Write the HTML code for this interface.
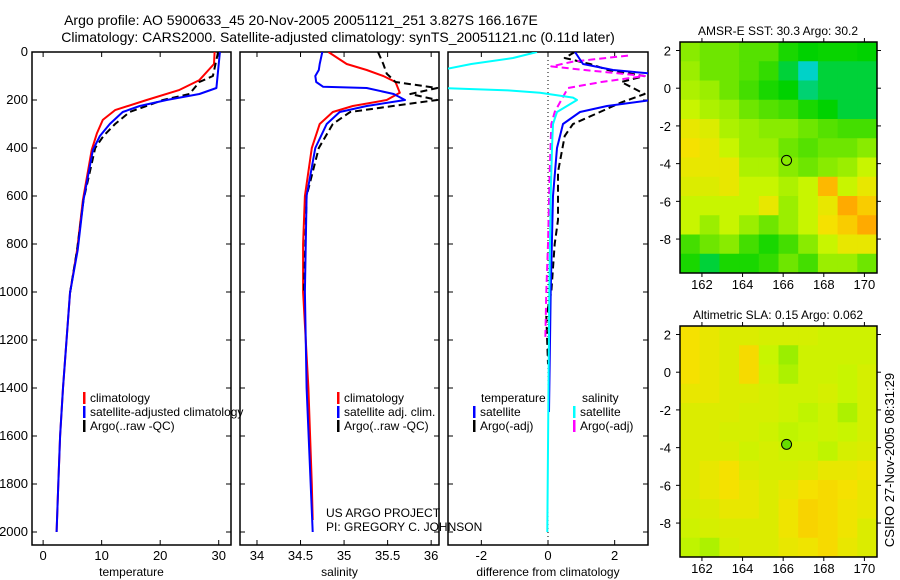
<!DOCTYPE html>
<html><head><meta charset="utf-8"><style>
html,body{margin:0;padding:0;background:#fff;}
svg{display:block;font-family:"Liberation Sans",sans-serif;}
</style></head><body>
<svg id="fig" width="900" height="580" xmlns="http://www.w3.org/2000/svg">
<text x="301" y="25" font-size="14" text-anchor="middle">Argo profile: AO 5900633_45 20-Nov-2005 20051121_251 3.827S 166.167E</text>
<text x="338" y="42" font-size="14" text-anchor="middle">Climatology: CARS2000. Satellite-adjusted climatology: synTS_20051121.nc (0.11d later)</text>
<g id="g"></g>
<text transform="translate(894,460) rotate(-90)" font-size="13" text-anchor="middle">CSIRO 27-Nov-2005 08:31:29</text>
</svg>
<script>
// ---------- Profile data (depth in m) ----------
const tClimDepth = [0,50,117,158,200,242,283,338,408,617,825,1004,1400,1600,1800,2000];
const tClimVal   = [29.3,29.2,26.7,23.3,17.7,12.3,10.2,9.2,8.3,6.8,5.8,4.6,3.4,2.9,2.6,2.3];
const tSatDepth  = [0,150,175,200,225,250,300,350,408,617,825,1004,1400,1600,1800,2000];
const tSatVal    = [30.2,29.6,26.7,21.1,16.5,13.6,11.4,9.7,8.5,6.9,5.9,4.6,3.4,2.9,2.6,2.3];
const tArgoDepth = [0,100,125,175,200,250,300,350,400,617,825,1004];
const tArgoVal   = [29.9,29.0,26.7,25.0,20.5,14.8,12.3,10.3,8.9,6.9,5.8,4.6];

const sClimDepth = [0,50,75,100,125,170,200,225,250,300,400,600,800,1000,1400,1600,1800,1950];
const sClimVal   = [34.82,35.03,35.26,35.45,35.59,35.64,35.49,35.1,34.87,34.72,34.63,34.55,34.53,34.53,34.59,34.61,34.63,34.64];
const sSatDepth  = [0,50,75,100,125,145,150,175,200,225,250,300,400,600,1000,1400,2000];
const sSatVal    = [34.75,34.72,34.71,34.67,34.68,34.76,35.26,35.57,35.7,35.26,34.95,34.8,34.67,34.57,34.55,34.57,34.64];
const sArgoDepth = [0,50,90,125,150,175,200,215,250,300,400,600,1000];
const sArgoVal   = [35.39,35.45,35.49,35.59,36.07,35.76,36.07,35.76,35.07,34.87,34.71,34.57,34.54];

const dTSatDepth = [0,50,75,90,200,225,250,300,400,600,1000,1500];
const dTSatVal   = [0.81,1.05,1.95,3.1,3.1,1.77,0.96,0.45,0.27,0.15,0.08,0.03];
const dSSatDepth = [0,25,50,75,150,160,170,190,200,225,250,300,400,600,1000,2000];
const dSSatVal   = [-0.33,-1.05,-2.3,-3.2,-3.2,-1.2,-0.24,0.75,0.87,0.57,0.27,0.15,0.12,0.08,0.04,-0.02];
const dTArgoDepth = [0,25,50,75,100,125,175,210,250,300,350,500,700,800,1000,1100,1300];
const dTArgoVal   = [0.8,0.5,1.26,1.8,2.9,2.2,2.9,2.2,1.56,0.75,0.5,0.3,0.3,0.2,0.1,-0.05,0.0];
const dSArgoDepth = [15,40,60,75,100,125,150,200,250,300,500,800,1000,1200];
const dSArgoVal   = [2.4,0.75,0.1,1.1,2.9,1.6,0.6,0.4,0.2,0.1,0.05,0.0,-0.05,-0.08];

// ---------- Map grids (rows lat 2..-10, cols lon 161..171) ----------
const sstGrid = [
[0.48,0.45,0.45,0.42,0.42,0.35,0.32,0.33,0.33,0.32],
[0.50,0.45,0.45,0.42,0.38,0.30,0.25,0.30,0.30,0.30],
[0.52,0.50,0.45,0.40,0.35,0.32,0.28,0.30,0.30,0.30],
[0.55,0.52,0.50,0.45,0.42,0.40,0.35,0.32,0.30,0.30],
[0.60,0.58,0.52,0.50,0.48,0.48,0.45,0.42,0.40,0.40],
[0.62,0.60,0.55,0.50,0.50,0.45,0.42,0.45,0.45,0.48],
[0.60,0.60,0.60,0.52,0.52,0.48,0.45,0.48,0.50,0.55],
[0.58,0.58,0.60,0.55,0.55,0.52,0.55,0.68,0.55,0.60],
[0.55,0.55,0.55,0.55,0.60,0.50,0.55,0.60,0.70,0.65],
[0.55,0.50,0.55,0.50,0.45,0.50,0.55,0.62,0.65,0.70],
[0.40,0.45,0.48,0.40,0.35,0.40,0.48,0.55,0.60,0.60],
[0.35,0.30,0.35,0.35,0.38,0.45,0.40,0.50,0.50,0.45]];
const slaGrid = [
[0.62,0.60,0.58,0.58,0.57,0.57,0.57,0.56,0.56,0.56],
[0.62,0.60,0.58,0.63,0.55,0.50,0.56,0.56,0.56,0.56],
[0.62,0.60,0.58,0.63,0.56,0.52,0.56,0.56,0.55,0.57],
[0.60,0.60,0.58,0.58,0.57,0.56,0.56,0.57,0.55,0.57],
[0.58,0.58,0.58,0.57,0.57,0.56,0.54,0.56,0.52,0.57],
[0.58,0.58,0.57,0.57,0.56,0.54,0.55,0.56,0.55,0.57],
[0.58,0.58,0.58,0.56,0.57,0.56,0.56,0.54,0.57,0.58],
[0.58,0.60,0.62,0.58,0.57,0.57,0.58,0.60,0.60,0.61],
[0.58,0.60,0.62,0.60,0.58,0.60,0.62,0.63,0.62,0.60],
[0.57,0.58,0.60,0.60,0.58,0.61,0.64,0.63,0.61,0.60],
[0.56,0.57,0.58,0.58,0.58,0.61,0.64,0.63,0.61,0.58],
[0.54,0.52,0.57,0.58,0.58,0.60,0.61,0.63,0.60,0.58]];
const argoLon = 166.167, argoLat = -3.827;

const NS="http://www.w3.org/2000/svg";
const G=document.getElementById('g');
function mk(tag,attrs,parent){const e=document.createElementNS(NS,tag);for(const k in attrs)e.setAttribute(k,attrs[k]);(parent||G).appendChild(e);return e;}
function txt(x,y,s,size,anchor,parent){const t=mk('text',{x:x,y:y,'font-size':size,'text-anchor':anchor||'start'},parent);t.textContent=s;return t;}

const yTop=52, yPer=0.24, yBot=545;
const yD=d=>yTop+d*yPer;

function panel(name,x0,x1,xmin,xmax,xticks,xlabel,showY){
  const g=mk('g',{});
  
  
  const sx=v=>x0+(v-xmin)/(xmax-xmin)*(x1-x0);
  const clipId='clip-'+name;
  const cp=mk('clipPath',{id:clipId},g);mk('rect',{x:x0,y:yTop,width:x1-x0,height:yBot-yTop},cp);
  const frame=mk('rect',{x:x0,y:yTop,width:x1-x0,height:yBot-yTop,fill:'none',stroke:'#000','stroke-width':1.5},g);
  
  
  for(const t of xticks){const x=sx(t);
    mk('line',{x1:x,x2:x,y1:yBot,y2:yBot-5,stroke:'#000'},g);
    mk('line',{x1:x,x2:x,y1:yTop,y2:yTop+5,stroke:'#000'},g);
    const l=txt(x,yBot+15,String(t),13,'middle',g);
    
    }
  for(let d=0;d<=2000;d+=200){const y=yD(d);
    mk('line',{x1:x0,x2:x0+5,y1:y,y2:y,stroke:'#000'},g);
    mk('line',{x1:x1,x2:x1-5,y1:y,y2:y,stroke:'#000'},g);
    if(showY){const l=txt(x0-4,y+4,String(d),13,'end',g);
      
      }}
  const xl=txt((x0+x1)/2,yBot+31,xlabel,12,'middle',g);
  
  
  const inner=mk('g',{'clip-path':'url(#'+clipId+')'},g);
  return {g,inner,sx};
}
function series(p,depths,vals,color,dash,w,nm){
  const pts=depths.map((d,i)=>p.sx(vals[i]).toFixed(1)+','+yD(d).toFixed(1)).join(' ');
  const a={points:pts,fill:'none',stroke:color,'stroke-width':w||2,'stroke-linejoin':'round'};
  if(dash)a['stroke-dasharray']=dash;
  const e=mk('polyline',a,p.inner);
  
  
}
function legend(g,x,y,color,label,nm){
  mk('rect',{x:x,y:y-10,width:2.5,height:12,fill:color},g);
  const t=txt(x+7,y,label,12,'start',g);
  
  
}

// Temperature
const p1=panel('temperature-panel',32,231,-1.9,32.1,[0,10,20,30],'temperature',true);
series(p1,tClimDepth,tClimVal,'#f00',null,2,'temp-climatology-line');
series(p1,tArgoDepth,tArgoVal,'#000','7,4',2,'temp-argo-line');
series(p1,tSatDepth,tSatVal,'#00f',null,2,'temp-satellite-line');
legend(p1.g,83,402,'#f00','climatology','legend-climatology');
legend(p1.g,83,416,'#00f','satellite-adjusted climatology','legend-satellite-adjusted');
legend(p1.g,83,430,'#000','Argo(..raw -QC)','legend-argo');

// Salinity
const p2=panel('salinity-panel',240,439,33.805,36.09,[34,34.5,35,35.5,36],'salinity',false);
series(p2,sClimDepth,sClimVal,'#f00',null,2,'sal-climatology-line');
series(p2,sArgoDepth,sArgoVal,'#000','7,4',2,'sal-argo-line');
series(p2,sSatDepth,sSatVal,'#00f',null,2,'sal-satellite-line');
legend(p2.g,337,402,'#f00','climatology','legend-sal-climatology');
legend(p2.g,337,416,'#00f','satellite adj. clim.','legend-sal-satellite');
legend(p2.g,337,430,'#000','Argo(..raw -QC)','legend-sal-argo');
const c1=txt(326,517,'US ARGO PROJECT',12,'start',p2.g);
const c2=txt(326,531,'PI: GREGORY C. JOHNSON',12,'start',p2.g);

// Difference
const p3=panel('difference-panel',448,648,-3,3,[-2,0,2],'difference from climatology',false);
mk('line',{x1:p3.sx(0),x2:p3.sx(0),y1:yTop,y2:yBot,stroke:'#000','stroke-dasharray':'1,3'},p3.inner);
series(p3,dTArgoDepth,dTArgoVal,'#000','7,4',2,'diff-temp-argo-line');
series(p3,dSArgoDepth,dSArgoVal,'#f0f','7,4',2,'diff-sal-argo-line');
series(p3,dTSatDepth,dTSatVal,'#00f',null,2,'diff-temp-satellite-line');
series(p3,dSSatDepth,dSSatVal,'#0ff',null,2,'diff-sal-satellite-line');
const lt=txt(481,402,'temperature',12,'start',p3.g);
const ls=txt(582,402,'salinity',12,'start',p3.g);
legend(p3.g,473,416,'#00f','satellite','legend-diff-temp-satellite');
legend(p3.g,473,430,'#000','Argo(-adj)','legend-diff-temp-argo');
legend(p3.g,573,416,'#0ff','satellite','legend-diff-sal-satellite');
legend(p3.g,573,430,'#f0f','Argo(-adj)','legend-diff-sal-argo');

// ---------- Maps ----------
const cstops=[[0,[0,0,160]],[0.15,[0,120,255]],[0.25,[0,210,200]],[0.32,[0,210,0]],[0.45,[110,230,0]],[0.55,[200,245,0]],[0.62,[245,225,0]],[0.7,[255,170,0]],[0.8,[240,110,0]],[1,[200,0,0]]];
function cmap(v){for(let i=1;i<cstops.length;i++){if(v<=cstops[i][0]){const a=cstops[i-1],b=cstops[i],t=(v-a[0])/(b[0]-a[0]);
  return 'rgb('+a[1].map((c,k)=>Math.round(c+(b[1][k]-c)*t)).join(',')+')';}}return 'rgb(200,0,0)';}
function mapPanel(name,title,grid,yTopM,yBotM){
  const x0=680,x1=877,lonMin=160.92,lonMax=170.62,latMax=2.45,latMin=-9.8;
  const sx=l=>x0+(l-lonMin)/(lonMax-lonMin)*(x1-x0);
  const sy=l=>yTopM+(latMax-l)/(latMax-latMin)*(yBotM-yTopM);
  const g=mk('g',{});
  
  
  const cid='clip-'+name;const cp=mk('clipPath',{id:cid},g);mk('rect',{x:x0,y:yTopM,width:x1-x0,height:yBotM-yTopM},cp);
  const cells=mk('g',{'clip-path':'url(#'+cid+')'},g);
  for(let r=0;r<grid.length;r++)for(let c=0;c<grid[r].length;c++){
    const la=2.45-r*(12.25/12), lo=160.92+c*(9.7/10);
    const cell=mk('rect',{x:sx(lo),y:sy(la),width:sx(lo+0.97)-sx(lo)+0.5,height:sy(la-12.25/12)-sy(la)+0.5,fill:cmap(grid[r][c])},cells);
    
    
  }
  mk('rect',{x:x0,y:yTopM,width:x1-x0,height:yBotM-yTopM,fill:'none',stroke:'#000','stroke-width':1.5},g);
  for(let lo=162;lo<=170;lo+=2){const x=sx(lo);
    mk('line',{x1:x,x2:x,y1:yBotM,y2:yBotM+4,stroke:'#000'},g);
    mk('line',{x1:x,x2:x,y1:yTopM,y2:yTopM-4,stroke:'#000'},g);
    const l=txt(x,yBotM+16,String(lo),13,'middle',g);}
  for(let la=2;la>=-8;la-=2){const y=sy(la);
    mk('line',{x1:x0,x2:x0-4,y1:y,y2:y,stroke:'#000'},g);
    mk('line',{x1:x1,x2:x1+4,y1:y,y2:y,stroke:'#000'},g);
    const l=txt(x0-9,y+5,String(la),13,'end',g);}
  const t=txt(778,yTopM-7,title,12,'middle',g);
  const m=mk('circle',{cx:sx(argoLon),cy:sy(argoLat),r:5,fill:'none',stroke:'#000','stroke-width':1},g);
  
  
  return {sx,sy,g,cells};
}
const m1=mapPanel('sst-map','AMSR-E SST: 30.3 Argo: 30.2',sstGrid,42,273);
const m2=mapPanel('sla-map','Altimetric SLA: 0.15 Argo: 0.062',slaGrid,326,557);
m2.g.querySelector('circle').setAttribute('fill','#66dd00');
</script>
</body></html>
